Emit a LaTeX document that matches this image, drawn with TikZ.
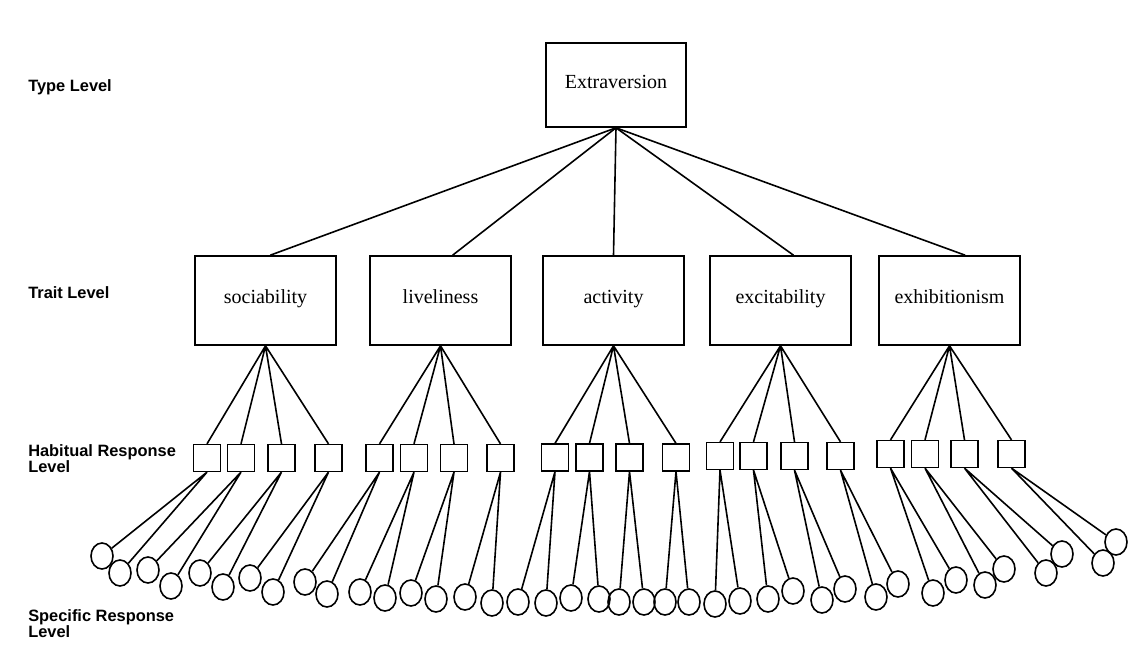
\documentclass[tikz,border=0pt]{standalone}
\usepackage{fontspec}
\setmainfont{Liberation Serif}
\setsansfont{Liberation Sans}
\usetikzlibrary{shapes.geometric}

\begin{document}
\begin{tikzpicture}[x=0.75pt,y=0.75pt,yscale=-1,xscale=1,
    typebox/.style={draw, line width=1.2pt, minimum width=105pt, minimum height=63pt, text height=1.4ex, text depth=0.4ex, font=\fontsize{15}{18}\selectfont},
    traitbox/.style={draw, line width=1.2pt, minimum width=105.75pt, minimum height=66.75pt, text height=1.4ex, text depth=0.4ex, font=\fontsize{15}{18}\selectfont},
    habitbox/.style={draw, line width=1.2pt, minimum size=20pt, inner sep=0pt},
    respnode/.style={draw, ellipse, line width=1.2pt, minimum width=16.5pt, minimum height=19.5pt, inner sep=0pt},
    levellabel/.style={anchor=west, align=left, inner sep=0pt, font=\sffamily\bfseries\fontsize{12.3}{12}\selectfont},
    link/.style={line width=1.2pt}]
    \useasboundingbox (0,0) rectangle (1128,646);
    \fill [white] (0,0) rectangle (1128,646);
    %Level labels
    \node [levellabel] (lvtype) at (28,87) {Type Level};
    \node [levellabel] (lvtrait) at (28,293) {Trait Level};
    \node [levellabel] (lvhabit) at (28,459) {Habitual Response\\Level};
    \node [levellabel] (lvspec) at (28,623.5) {Specific Response\\Level};
    %Type and traits
    \node [typebox] (ext) at (616,85) {Extraversion};
    \node [traitbox] (soc) at (265.5,300.5) {sociability};
    \node [traitbox] (liv) at (440.5,300.5) {liveliness};
    \node [traitbox] (act) at (613.5,300.5) {activity};
    \node [traitbox] (exc) at (780.5,300.5) {excitability};
    \node [traitbox] (exh) at (949.5,300.5) {exhibitionism};
    \draw [link] (ext.south) -- (soc.84);
    \draw [link] (ext.south) -- (liv.75);
    \draw [link] (ext.south) -- (act.north);
    \draw [link] (ext.south) -- (exc.74);
    \draw [link] (ext.south) -- (exh.71);
    %Habitual responses
    \node [habitbox] (h1) at (207,458) {};
    \node [habitbox] (h2) at (241,458) {};
    \node [habitbox] (h3) at (281.5,458) {};
    \node [habitbox] (h4) at (328.5,458) {};
    \node [habitbox] (h5) at (379.5,458) {};
    \node [habitbox] (h6) at (414,458) {};
    \node [habitbox] (h7) at (454,458) {};
    \node [habitbox] (h8) at (500.5,458) {};
    \node [habitbox] (h9) at (555,457.5) {};
    \node [habitbox] (h10) at (589.5,457.5) {};
    \node [habitbox] (h11) at (629.5,457.5) {};
    \node [habitbox] (h12) at (676,457.5) {};
    \node [habitbox] (h13) at (720,456) {};
    \node [habitbox] (h14) at (753.5,456) {};
    \node [habitbox] (h15) at (794.5,456) {};
    \node [habitbox] (h16) at (840.5,456) {};
    \node [habitbox] (h17) at (890.5,454) {};
    \node [habitbox] (h18) at (925,454) {};
    \node [habitbox] (h19) at (964.5,454) {};
    \node [habitbox] (h20) at (1011.5,454) {};
    \draw [link] (soc.south) -- (h1.north) (soc.south) -- (h2.north) (soc.south) -- (h3.north) (soc.south) -- (h4.north);
    \draw [link] (liv.south) -- (h5.north) (liv.south) -- (h6.north) (liv.south) -- (h7.north) (liv.south) -- (h8.north);
    \draw [link] (act.south) -- (h9.north) (act.south) -- (h10.north) (act.south) -- (h11.north) (act.south) -- (h12.north);
    \draw [link] (exc.south) -- (h13.north) (exc.south) -- (h14.north) (exc.south) -- (h15.north) (exc.south) -- (h16.north);
    \draw [link] (exh.south) -- (h17.north) (exh.south) -- (h18.north) (exh.south) -- (h19.north) (exh.south) -- (h20.north);
    %Specific responses
    \node [respnode] (r1) at (102,556) {};
    \node [respnode] (r2) at (120,573) {};
    \node [respnode] (r3) at (148,570) {};
    \node [respnode] (r4) at (171,586) {};
    \node [respnode] (r5) at (200,573) {};
    \node [respnode] (r6) at (223,587) {};
    \node [respnode] (r7) at (250,578) {};
    \node [respnode] (r8) at (273,592) {};
    \node [respnode] (r9) at (305,582) {};
    \node [respnode] (r10) at (327,594) {};
    \node [respnode] (r11) at (360,592) {};
    \node [respnode] (r12) at (385,598) {};
    \node [respnode] (r13) at (411,593) {};
    \node [respnode] (r14) at (436,599) {};
    \node [respnode] (r15) at (465,597) {};
    \node [respnode] (r16) at (492,603) {};
    \node [respnode] (r17) at (518,602) {};
    \node [respnode] (r18) at (546,603) {};
    \node [respnode] (r19) at (571,598) {};
    \node [respnode] (r20) at (599,599) {};
    \node [respnode] (r21) at (619,602) {};
    \node [respnode] (r22) at (644,602) {};
    \node [respnode] (r23) at (665,602) {};
    \node [respnode] (r24) at (689,602) {};
    \node [respnode] (r25) at (715,604) {};
    \node [respnode] (r26) at (740,601) {};
    \node [respnode] (r27) at (768,599) {};
    \node [respnode] (r28) at (793,591) {};
    \node [respnode] (r29) at (822,600) {};
    \node [respnode] (r30) at (845,589) {};
    \node [respnode] (r31) at (876,597) {};
    \node [respnode] (r32) at (898,584) {};
    \node [respnode] (r33) at (933,593) {};
    \node [respnode] (r34) at (956,580) {};
    \node [respnode] (r35) at (985,585) {};
    \node [respnode] (r36) at (1004,569) {};
    \node [respnode] (r37) at (1046,573) {};
    \node [respnode] (r38) at (1062,554) {};
    \node [respnode] (r39) at (1103,563) {};
    \node [respnode] (r40) at (1116,542) {};
    \draw [link] (h1.south) -- (r1) (h1.south) -- (r2);
    \draw [link] (h2.south) -- (r3) (h2.south) -- (r4);
    \draw [link] (h3.south) -- (r5) (h3.south) -- (r6);
    \draw [link] (h4.south) -- (r7) (h4.south) -- (r8);
    \draw [link] (h5.south) -- (r9) (h5.south) -- (r10);
    \draw [link] (h6.south) -- (r11) (h6.south) -- (r12);
    \draw [link] (h7.south) -- (r13) (h7.south) -- (r14);
    \draw [link] (h8.south) -- (r15) (h8.south) -- (r16);
    \draw [link] (h9.south) -- (r17) (h9.south) -- (r18);
    \draw [link] (h10.south) -- (r19) (h10.south) -- (r20);
    \draw [link] (h11.south) -- (r21) (h11.south) -- (r22);
    \draw [link] (h12.south) -- (r23) (h12.south) -- (r24);
    \draw [link] (h13.south) -- (r25) (h13.south) -- (r26);
    \draw [link] (h14.south) -- (r27) (h14.south) -- (r28);
    \draw [link] (h15.south) -- (r29) (h15.south) -- (r30);
    \draw [link] (h16.south) -- (r31) (h16.south) -- (r32);
    \draw [link] (h17.south) -- (r33) (h17.south) -- (r34);
    \draw [link] (h18.south) -- (r35) (h18.south) -- (r36);
    \draw [link] (h19.south) -- (r37) (h19.south) -- (r38);
    \draw [link] (h20.south) -- (r39) (h20.south) -- (r40);
\end{tikzpicture}
\end{document}
